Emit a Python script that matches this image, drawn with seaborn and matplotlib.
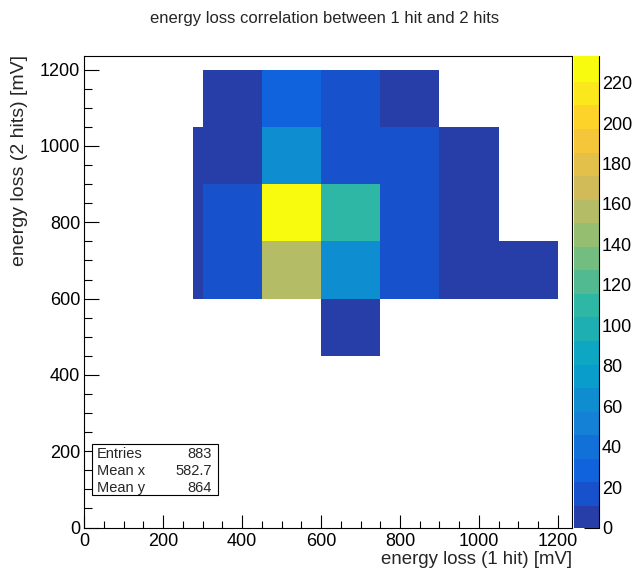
import numpy as np
import pandas as pd
import matplotlib
matplotlib.use("Agg")
import matplotlib.pyplot as plt
from matplotlib.colors import ListedColormap
from matplotlib.patches import Rectangle
from matplotlib.lines import Line2D
from matplotlib.ticker import MultipleLocator
import seaborn as sns

# ---- histogram contents -------------------------------------------------
x_edges = [275, 300, 450, 600, 750, 900, 1050, 1200]
y_edges = [450, 600, 750, 900, 1050, 1200]
# one list per y bin (bottom to top), one value per x bin
row_450_600 = [0, 0, 0, 6, 0, 0, 0]
row_600_750 = [3, 15, 157, 64, 17, 6, 5]
row_750_900 = [3, 16, 233, 110, 18, 8, 0]
row_900_1050 = [3, 8, 64, 17, 16, 7, 0]
row_1050_1200 = [0, 6, 30, 18, 7, 0, 0]

z_max = 233
z_ticks = list(range(0, 221, 20))
axis_ticks = list(range(0, 1201, 200))

title = "energy loss correlation between 1 hit and 2 hits"
x_title = "energy loss (1 hit) [mV]"
y_title = "energy loss (2 hits) [mV]"
stats_labels = ["Entries", "Mean x", "Mean y"]
stats_values = ["883", "582.7", "864"]

# ---- long-form table for seaborn ----------------------------------------
rows = [row_450_600, row_600_750, row_750_900, row_900_1050, row_1050_1200]
recs = []
for j, row in enumerate(rows):
    yc = 0.5 * (y_edges[j] + y_edges[j + 1])
    for i, w in enumerate(row):
        xc = 0.5 * (x_edges[i] + x_edges[i + 1])
        recs.append((xc, yc, w))
df = pd.DataFrame(recs, columns=["e1", "e2", "n"])

# ---- ROOT "bird" palette, 20 contour levels ------------------------------
stops = [0.0, 0.125, 0.25, 0.375, 0.5, 0.625, 0.75, 0.875, 1.0]
red = [0.2082, 0.0592, 0.0780, 0.0232, 0.1802, 0.5301, 0.8186, 0.9956, 0.9764]
green = [0.1664, 0.3599, 0.5041, 0.6419, 0.7178, 0.7492, 0.7328, 0.7862, 0.9832]
blue = [0.5293, 0.8684, 0.8385, 0.7914, 0.6425, 0.4662, 0.3499, 0.1968, 0.0539]
ndiv, ncol = 20, 255
fr = [int((k + 0.99) * ncol / ndiv) / (ncol - 1) for k in range(ndiv)]
cols = [(np.interp(f, stops, red), np.interp(f, stops, green), np.interp(f, stops, blue))
        for f in fr]
cmap = ListedColormap(cols)

# ---- figure -------------------------------------------------------------
sns.set_theme(style="white")
plt.rcParams["font.family"] = ["Liberation Sans", "DejaVu Sans"]

W, H = 637, 572
fig = plt.figure(figsize=(W / 100, H / 100), dpi=100)


def fx(px):
    return px / W


def fy(py):
    return 1 - py / H


L, R, T, B = 84.3, 571.7, 56.3, 527.5
ax = fig.add_axes([fx(L), fy(B), (R - L) / W, (B - T) / H])
cax = fig.add_axes([fx(574), fy(B), 25 / W, (B - T) / H])

sns.histplot(data=df, x="e1", y="e2", weights="n", bins=(x_edges, y_edges),
             cmap=cmap, vmin=0, vmax=z_max, cbar=True, cbar_ax=cax, ax=ax)

ax.set_xlim(0, 1235)
ax.set_ylim(0, 1235)
ax.set_xticks(axis_ticks)
ax.set_yticks(axis_ticks)
ax.xaxis.set_minor_locator(MultipleLocator(50))
ax.yaxis.set_minor_locator(MultipleLocator(50))
ax.set_xlabel("")
ax.set_ylabel("")
ax.tick_params(axis="both", which="both", direction="in", colors="black",
               labelsize=13, bottom=True, left=True, top=False, right=False,
               width=0.8)
ax.tick_params(axis="x", which="major", length=9.5, pad=4)
ax.tick_params(axis="x", which="minor", length=5)
ax.tick_params(axis="y", which="major", length=10.8, pad=3)
ax.tick_params(axis="y", which="minor", length=5.8)
for s in ax.spines.values():
    s.set_visible(True)
    s.set_color("black")
    s.set_linewidth(0.8)

# colour scale axis
cax.set_ylim(0, z_max)
cax.set_yticks(z_ticks)
cax.yaxis.set_ticks_position("right")
cax.tick_params(axis="y", direction="in", length=10.8, width=0.8,
                labelsize=13, pad=2, colors="black")
cax.minorticks_off()
for s in cax.spines.values():
    s.set_visible(False)
cb = ax.collections[0].colorbar
if cb is not None:
    cb.outline.set_visible(False)
    cb.solids.set_edgecolor("face")
cax.add_line(Line2D([1, 1], [0, 1], transform=cax.transAxes, color="black",
                    lw=0.8, clip_on=False))

# titles
fig.text(fx(325), fy(19), title, ha="center", va="center", fontsize=12)
fig.text(fx(R), fy(560), x_title, ha="right", va="center", fontsize=13.4)
fig.text(fx(20), fy(T - 1), y_title, ha="center", va="top", rotation=90,
         fontsize=14)

# statistics box
bx0, by0, bx1, by1 = 92, 444, 218, 495
fig.patches.append(Rectangle((fx(bx0), fy(by1)), (bx1 - bx0) / W, (by1 - by0) / H,
                             transform=fig.transFigure, facecolor="white",
                             edgecolor="black", lw=0.8, zorder=5))
for k, (lab, val) in enumerate(zip(stats_labels, stats_values)):
    yy = fy(453.5 + k * 17.3)
    fig.text(fx(97), yy, lab, ha="left", va="center", fontsize=10.5, zorder=6)
    fig.text(fx(212), yy, val, ha="right", va="center", fontsize=10.5, zorder=6)

fig.savefig("out.png", dpi=100)
